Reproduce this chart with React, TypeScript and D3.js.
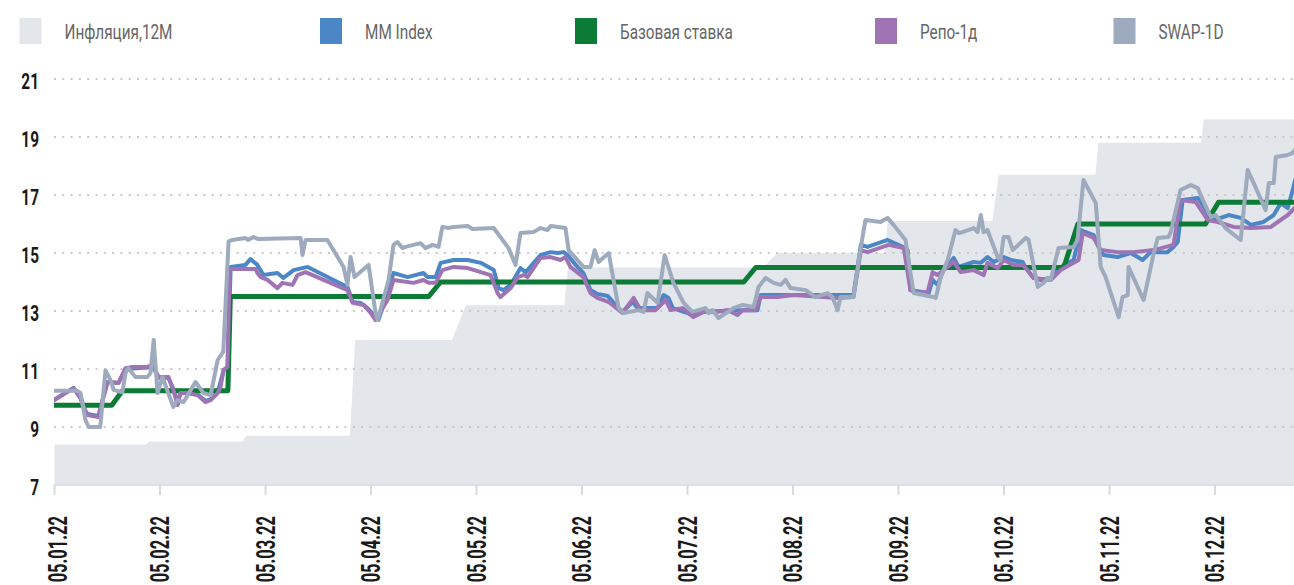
import React from 'react';
import * as d3 from 'd3';

// x is a day count from 05.01.22, the axis puts one month every 30 days
const monthTicks = [0, 30, 60, 90, 120, 150, 180, 210, 240, 270, 300, 330];
const monthLabels = ['05.01.22', '05.02.22', '05.03.22', '05.04.22', '05.05.22', '05.06.22',
  '05.07.22', '05.08.22', '05.09.22', '05.10.22', '05.11.22', '05.12.22'];
const yTicks = [7, 9, 11, 13, 15, 17, 19, 21];

type Pt = [number, number];

const inflation: Pt[] = [
  [0, 8.4], [26, 8.4], [27, 8.5], [53.5, 8.5], [54.5, 8.7], [84, 8.7], [85.5, 12.0], [113, 12.0],
  [117, 13.2], [145, 13.2], [146, 14.5], [201.5, 14.5], [205.5, 15.0], [236, 15.0], [237, 16.1],
  [266.7, 16.1], [268.5, 17.7], [296, 17.7], [296.8, 18.8], [326, 18.8], [326.8, 19.6], [356, 19.6],
];

const baseRate: Pt[] = [
  [0, 9.75], [16.3, 9.75], [19.3, 10.25], [49.3, 10.25], [50, 13.5], [106.4, 13.5], [109.8, 14.0],
  [196, 14.0], [199.4, 14.5], [287, 14.5], [291, 16.0], [327.3, 16.0], [331, 16.75], [356, 16.75],
];

const mmIndex: Pt[] = [
  [0, 9.95], [5.4, 10.35], [7.4, 10.0], [8.8, 9.55], [9.4, 9.45], [12.5, 9.38], [13.7, 9.95],
  [15.1, 10.55], [18.2, 10.52], [20.2, 11.0], [26.4, 11.05], [27.9, 11.1], [29.6, 10.7], [32.4, 10.7],
  [33.8, 10.3], [35, 9.8], [35.8, 10.2], [40.7, 10.12], [42.9, 9.9], [44.4, 9.95], [46.4, 10.2],
  [48.1, 10.95], [49.2, 11.05], [50.1, 14.52], [54.3, 14.59], [55.7, 14.79], [57.7, 14.59],
  [59.4, 14.24], [63.4, 14.31], [65.1, 14.14], [68, 14.41], [72, 14.52], [83.3, 13.83], [84.8, 13.31],
  [87, 13.28], [89, 13.1], [92.1, 12.69], [94.7, 13.62], [96.4, 14.31], [100.4, 14.17], [104.9, 14.31],
  [106.1, 14.17], [108.4, 14.17], [109.8, 14.66], [113.5, 14.76], [117.5, 14.76], [121.2, 14.66],
  [124.9, 14.41], [126.3, 13.79], [127.7, 13.72], [129.7, 13.9], [132.5, 14.48], [134, 14.34],
  [138.2, 14.93], [141.1, 15.03], [143.1, 15.0], [144.8, 15.03], [145.9, 14.93], [148.2, 14.59],
  [150.4, 14.31], [152.4, 13.72], [154.4, 13.59], [157.3, 13.52], [159.5, 13.21], [161.5, 12.97],
  [164.4, 13.31], [165.8, 13.1], [171.5, 13.1], [173.2, 13.55], [174.6, 13.45], [175.8, 13.1],
  [181.7, 12.86], [184.6, 12.97], [194.2, 13.03], [199.9, 13.03], [200.8, 13.55], [222.7, 13.55],
  [227.2, 13.55], [229.3, 15.28], [231.2, 15.21], [236.9, 15.45], [241.2, 15.21], [242.6, 15.1],
  [243.4, 13.72], [248.6, 13.62], [249.7, 14.07], [251.1, 13.9], [252.8, 14.41], [255.7, 14.83],
  [257.1, 14.52], [261.4, 14.69], [263.4, 14.66], [265.3, 14.86], [267.1, 14.69], [269.9, 14.86],
  [271.9, 14.76], [275.3, 14.69], [276.2, 14.48], [278.4, 14.14], [280.4, 14.07], [283.3, 14.14],
  [285.3, 14.41], [287, 14.59], [289.8, 14.76], [291.8, 15.79], [295.5, 15.62], [296.9, 15.21],
  [298.3, 14.93], [302.3, 14.86], [306, 15.0], [308, 14.86], [309.4, 14.76], [311.7, 15.03],
  [316.5, 15.03], [318.2, 15.21], [319.4, 15.38], [320.8, 16.83], [325.1, 16.9], [325.9, 16.76],
  [328.8, 16.21], [331.6, 16.21], [333.9, 16.31], [337.3, 16.21], [340.2, 15.97], [343.8, 16.07],
  [346.7, 16.31], [348.7, 16.72], [350.7, 16.55], [352.1, 17.17], [353, 17.6],
];

const repo: Pt[] = [
  [0, 9.93], [5.4, 10.34], [7.4, 10.0], [8.8, 9.52], [9.4, 9.41], [12.5, 9.34], [13.7, 9.93],
  [15.1, 10.55], [18.2, 10.52], [20.2, 11.03], [22.2, 11.07], [26.4, 11.07], [27.9, 11.14],
  [29.6, 10.72], [32.4, 10.72], [33.8, 10.28], [35, 9.76], [35.8, 10.17], [37.8, 10.17], [40.7, 10.1],
  [42.9, 9.86], [44.4, 9.93], [46.4, 10.17], [47.2, 10.38], [48.1, 10.97], [49.2, 11.07],
  [49.8, 14.41], [50.1, 14.45], [57.2, 14.45], [57.7, 14.31], [58.6, 14.17], [60.6, 14.07],
  [63.4, 13.79], [64.8, 13.97], [67.7, 13.9], [69.1, 14.24], [71.4, 14.34], [83.3, 13.72],
  [84.8, 13.28], [87.9, 13.21], [89.9, 12.93], [91.3, 12.69], [94.7, 13.38], [96.4, 14.07],
  [102.1, 13.97], [104.9, 14.07], [106.4, 13.97], [108.4, 13.97], [110.3, 14.41], [113.5, 14.52],
  [117.5, 14.48], [124, 14.24], [126, 13.62], [126.8, 13.48], [129.7, 13.79], [131.7, 14.17],
  [133.4, 14.24], [134.5, 14.17], [138.2, 14.83], [141.1, 14.86], [143.9, 14.76], [145.3, 14.86],
  [146.7, 14.52], [150.4, 14.17], [152.4, 13.62], [154.4, 13.45], [157.6, 13.31], [161.5, 12.93],
  [164.7, 13.45], [166.7, 13.03], [170.9, 13.03], [173.8, 13.38], [175.2, 13.03], [178.6, 13.1],
  [181.7, 12.79], [184.6, 12.97], [188.6, 12.97], [191.4, 13.03], [194.2, 12.86], [195.7, 13.03],
  [199.4, 13.03], [200.8, 13.48], [205.6, 13.48], [210.2, 13.55], [222.7, 13.45], [227.2, 13.48],
  [229.3, 15.1], [231.2, 15.03], [237.2, 15.28], [241.5, 15.17], [243.4, 13.72], [245.4, 13.62],
  [248.3, 13.66], [249.7, 14.34], [251.1, 14.24], [255.7, 14.69], [257.7, 14.34], [261.4, 14.41],
  [264.2, 14.24], [265.3, 14.66], [268.2, 14.48], [269.9, 14.76], [272.7, 14.59], [275.3, 14.59],
  [276.7, 14.41], [278.4, 14.14], [283.3, 14.07], [286.1, 14.41], [289.8, 14.66], [291.2, 14.76],
  [292.4, 15.69], [295.5, 15.52], [297.5, 15.1], [302.3, 15.03], [306.9, 15.03], [312.6, 15.1],
  [318.2, 15.28], [320.2, 16.83], [324.5, 16.76], [327.9, 16.14], [330.8, 16.07], [335.3, 15.9],
  [340.2, 15.86], [345.9, 15.9], [350.7, 16.31], [353, 16.6],
];

const swap1d: Pt[] = [
  [0, 10.25], [6.5, 10.25], [7.4, 10.17], [8.8, 9.24], [9.7, 9.0], [13, 9.0], [14.5, 10.95],
  [16, 10.6], [16.8, 10.28], [19.3, 10.2], [20.2, 10.86], [21, 11.03], [23, 10.72], [26.4, 10.72],
  [27.3, 10.86], [28.2, 12.0], [29.3, 10.17], [30.7, 10.72], [33.8, 9.69], [35, 9.93], [36.7, 9.86],
  [40.1, 10.55], [42.4, 10.17], [44.4, 10.1], [46.4, 11.31], [48, 11.6], [49.5, 15.4], [50.6, 15.45],
  [54.3, 15.52], [55, 15.45], [56.6, 15.55], [58, 15.48], [70, 15.52], [70.5, 14.93], [71.4, 15.45],
  [77.6, 15.45], [82.2, 14.52], [83.3, 13.9], [84.2, 14.86], [85.3, 14.17], [89.3, 14.59],
  [91.3, 12.93], [91.9, 12.69], [95, 14.07], [96.4, 15.28], [97.5, 15.38], [99, 15.17], [99.8, 15.21],
  [104.1, 15.34], [105.5, 15.17], [107.5, 15.28], [109.2, 15.21], [110.3, 15.9], [112, 15.86],
  [113.5, 15.9], [117.5, 15.93], [118.9, 15.83], [124.9, 15.86], [129.1, 15.17], [131.1, 14.59],
  [132.5, 15.69], [136.2, 15.72], [138.2, 15.86], [140.2, 15.79], [141.1, 15.93], [145.3, 15.86],
  [146.2, 15.1], [150.4, 14.52], [152.4, 14.52], [153.6, 15.1], [154.7, 14.69], [157.6, 15.0],
  [160.4, 13.1], [161.8, 12.93], [166.1, 13.03], [167.5, 12.97], [168.6, 13.62], [171.5, 13.28],
  [173.5, 14.93], [176, 13.97], [178.9, 13.28], [181.4, 12.97], [185.1, 13.1], [186, 12.93],
  [187.1, 13.03], [188.8, 12.76], [193.1, 13.1], [195.7, 13.21], [198.8, 13.14], [200.2, 13.83],
  [202.2, 14.14], [204.5, 13.97], [206.5, 13.9], [207.9, 14.07], [209.3, 13.79], [211.3, 13.76],
  [213.6, 13.72], [216.4, 13.48], [219.8, 13.62], [221.2, 13.48], [222.7, 13.03], [223.5, 13.48],
  [227.2, 13.48], [228.7, 14.76], [230.6, 16.14], [234.9, 16.07], [236.9, 16.21], [238.6, 15.97],
  [242, 15.45], [243.4, 14.31], [244.3, 13.62], [250, 13.48], [250.6, 13.45], [252, 14.17],
  [254, 14.76], [256.2, 15.79], [257.1, 15.69], [258.2, 15.72], [261.4, 15.86], [262.5, 15.72],
  [263.4, 16.31], [264.2, 15.72], [265.3, 15.79], [268.2, 14.86], [269, 14.76], [269.9, 15.55],
  [271.3, 15.55], [272.5, 15.1], [276.2, 15.52], [277, 15.45], [279.6, 13.83], [281.3, 13.97],
  [282.4, 14.14], [283.3, 14.07], [285.5, 15.17], [289.8, 15.21], [290.9, 15.45], [292.6, 17.52],
  [296.1, 16.72], [297.5, 14.52], [298.9, 14.17], [302.6, 12.79], [303.7, 13.48], [305.2, 13.55],
  [305.4, 14.52], [309.7, 13.38], [312.6, 15.0], [313.7, 15.52], [316.8, 15.55], [317.4, 15.72],
  [320.2, 17.17], [323.1, 17.34], [325.1, 17.24], [326.8, 16.76], [328.8, 16.24], [330.2, 16.31],
  [333, 15.86], [337.3, 15.45], [339.3, 17.86], [341, 17.41], [344.4, 16.48], [345.3, 17.41],
  [346.7, 17.41], [347.3, 18.31], [350.7, 18.38], [352.1, 18.45], [353, 18.6],
];

const legendItems = [
  { label: 'Инфляция,12M', color: '#e3e6eb' },
  { label: 'MM Index', color: '#4b86c7' },
  { label: 'Базовая ставка', color: '#0b7b36' },
  { label: 'Репо-1д', color: '#9e74b4' },
  { label: 'SWAP-1D', color: '#9eaabd' },
];
const legendX = [19.5, 320, 575, 875, 1113.5];

const W = 1294;
const H = 585;

export default function App() {
  const x = d3.scaleLinear().domain([0, 330]).range([54.5, 1215]);
  const y = d3.scaleLinear().domain([7, 21]).range([485, 79]);

  const area = d3.area<Pt>()
    .x(d => x(d[0]))
    .y0(y(7))
    .y1(d => y(d[1]));

  const line = d3.line<Pt>()
    .x(d => x(d[0]))
    .y(d => y(d[1]));

  const series = [
    { data: mmIndex, color: legendItems[1].color, width: 4 },
    { data: baseRate, color: legendItems[2].color, width: 5 },
    { data: repo, color: legendItems[3].color, width: 4 },
    { data: swap1d, color: legendItems[4].color, width: 4 },
  ];

  const font = 'Roboto, "Liberation Sans", Arial, sans-serif';

  return (
    <svg width={W} height={H} style={{ position: 'absolute', left: 0, top: 0, background: '#fff' }}>
      <defs>
        <clipPath id="plot">
          <rect x={54} y={0} width={W - 54} height={y(7)} />
        </clipPath>
      </defs>

      {/* legend */}
      {legendItems.map((it, i) => (
        <g key={it.label}>
          <rect x={legendX[i]} y={18} width={22} height={26} fill={it.color} />
          <text
            transform={`translate(${legendX[i] + 45},38.5) scale(0.73,1)`}
            fontFamily={font}
            fontSize={21}
            fill="#666"
          >
            {it.label}
          </text>
        </g>
      ))}

      {/* inflation area */}
      <path d={area(inflation) || ''} fill={legendItems[0].color} clipPath="url(#plot)" />

      {/* grid */}
      {yTicks.filter(t => t > 7).map(t => (
        <line key={t} x1={54} x2={W} y1={y(t)} y2={y(t)}
          stroke="#c9c9c9" strokeWidth={2} strokeDasharray="2 6.3" />
      ))}

      {/* x axis */}
      <line x1={54} x2={W} y1={y(7)} y2={y(7)} stroke="#dde0e5" strokeWidth={2} />
      {monthTicks.map((t, i) => (
        <g key={t}>
          <line x1={x(t)} x2={x(t)} y1={y(7)} y2={y(7) + 10} stroke="#d6d9de" strokeWidth={2} />
          <text
            transform={`translate(${Math.max(x(t), 58) + 9},516) rotate(-90) scale(0.66,1)`}
            textAnchor="end"
            fontFamily={font}
            fontWeight={700}
            fontSize={25}
            fill="#1a1a1a"
          >
            {monthLabels[i]}
          </text>
        </g>
      ))}

      {/* y labels */}
      {yTicks.map(t => (
        <text
          key={t}
          transform={`translate(39,${y(t) + 9.5}) scale(0.7,1)`}
          textAnchor="end"
          fontFamily={font}
          fontWeight={700}
          fontSize={22}
          fill="#1a1a1a"
        >
          {t}
        </text>
      ))}

      {/* lines */}
      <g clipPath="url(#plot)">
        {series.map((s, i) => (
          <path key={i} d={line(s.data) || ''} fill="none" stroke={s.color}
            strokeWidth={s.width} strokeLinejoin="round" strokeLinecap="round" />
        ))}
      </g>
    </svg>
  );
}
